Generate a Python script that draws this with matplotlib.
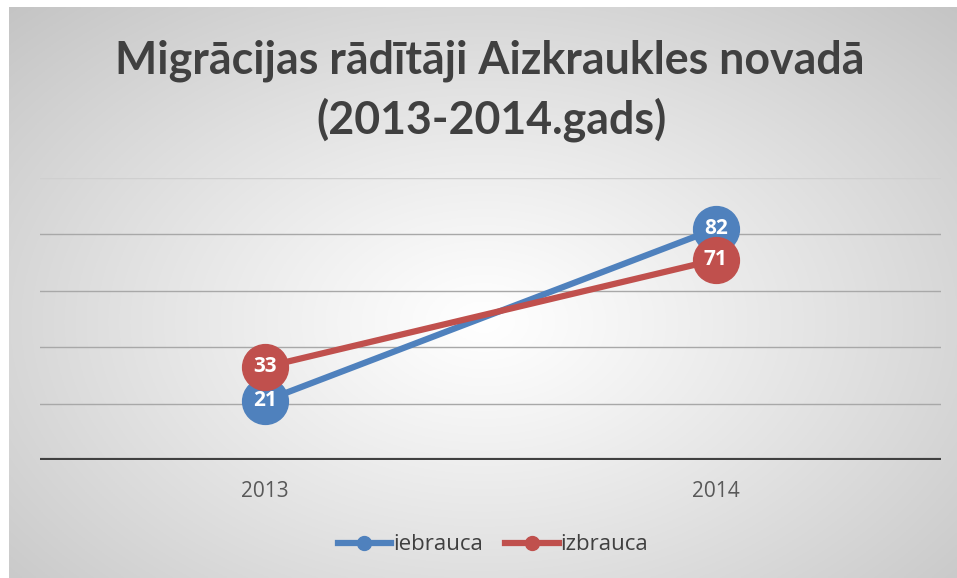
import numpy as np
import matplotlib
matplotlib.use("Agg")
import matplotlib.pyplot as plt
from matplotlib.lines import Line2D

years = ["2013", "2014"]
iebrauca = [21, 82]
izbrauca = [33, 71]
series_names = ["iebrauca", "izbrauca"]
title_lines = ["Migrācijas rādītāji Aizkraukles novadā", "(2013-2014.gads)"]

W, H = 957, 578
fig = plt.figure(figsize=(W / 100, H / 100), dpi=100)
fig.patch.set_facecolor("white")

# background with radial gradient
bg = fig.add_axes([9 / W, 0, (W - 9) / W, (H - 7) / H])
bg.set_axis_off()
ny, nx = 300, 500
yy, xx = np.mgrid[0:ny, 0:nx]
cx, cy = nx * 0.5, ny * 0.55
r = np.sqrt(((xx - cx) / (nx * 0.5)) ** 2 + ((yy - cy) / (ny * 0.55)) ** 2) / np.sqrt(2)
r = np.clip(r, 0, 1)
val = 1.0 - 0.23 * r ** 1.1
img = np.dstack([val, val, val])
bg.imshow(img, aspect="auto", extent=[0, 1, 0, 1], origin="upper")
bg.set_xlim(0, 1)
bg.set_ylim(0, 1)

ax = fig.add_axes([40 / W, (H - 460) / H, 901 / W, (460 - 178) / H])
ax.set_facecolor("none")
x = np.arange(len(years))
ax.set_xlim(-0.5, 1.5)
ax.set_ylim(0, 100)
for v in [20, 40, 60, 80, 100]:
    ax.axhline(v, color="#a8a8a8" if v < 100 else "#cfcfcf", lw=1.0, zorder=1)
ax.axhline(0, color="#404040", lw=3.0, zorder=2, solid_capstyle="butt")
for s in ax.spines.values():
    s.set_visible(False)
ax.set_yticks([])
ax.set_xticks(x)
ax.set_xticklabels(years, fontsize=15, color="#595959", family="Open Sans")
ax.tick_params(axis="x", length=0, pad=15)

colors = ["#4F81BD", "#C0504D"]
for vals, c, name in [(iebrauca, colors[0], series_names[0]), (izbrauca, colors[1], series_names[1])]:
    ax.plot(x, vals, color=c, lw=4.5, marker="o", markersize=33, zorder=3,
            solid_capstyle="round", clip_on=False)
    for xi, v in zip(x, vals):
        ax.text(xi, v, str(v), color="white", fontsize=15, fontweight="bold",
                ha="center", va="center", family="Open Sans", zorder=5)

fig.text(490 / W, 1 - 73 / H, title_lines[0], ha="center", va="baseline", fontsize=32.2,
         fontweight="bold", color="#404040", family="Lato")
fig.text(491 / W, 1 - 133 / H, title_lines[1], ha="center", va="baseline", fontsize=32.2,
         fontweight="bold", color="#404040", family="Lato")

handles = [Line2D([0], [0], color=c, lw=4.5, marker="o", markersize=10) for c in colors]
leg = fig.legend(handles, series_names, loc="center", bbox_to_anchor=(493 / W, 1 - 545 / H),
                 ncol=2, frameon=False, prop={"family": "Open Sans", "size": 16},
                 handlelength=2.4, columnspacing=1.0, handletextpad=0.1)
for t in leg.get_texts():
    t.set_color("#404040")

fig.savefig("out.png", dpi=100)
